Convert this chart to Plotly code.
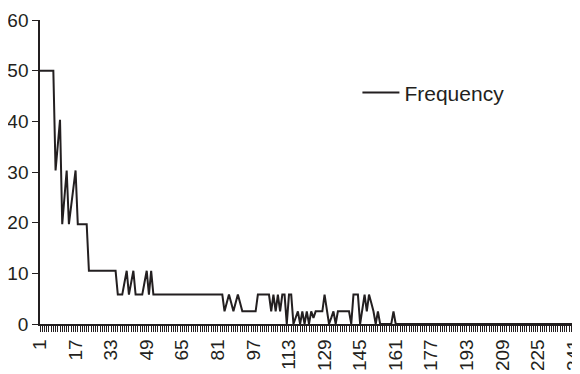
import plotly.graph_objects as go

# Frequency values, one per category 1..243
freq = [
    50, 50, 50, 50, 50, 50, 50,
    30.3, 35.3, 40.3, 19.7, 25, 30.3, 19.7, 23.2, 26.8, 30.3,
    19.7, 19.7, 19.7, 19.7, 19.7,
    10.5, 10.5, 10.5, 10.5, 10.5, 10.5, 10.5, 10.5, 10.5, 10.5, 10.5, 10.5, 10.5,
    5.8, 5.8, 5.8, 8.2, 10.5, 5.8, 8.2, 10.5, 5.8, 5.8, 5.8, 5.8, 8.2, 10.5, 5.8, 10.5,
    5.8, 5.8, 5.8, 5.8, 5.8, 5.8, 5.8, 5.8, 5.8, 5.8, 5.8, 5.8, 5.8, 5.8, 5.8, 5.8,
    5.8, 5.8, 5.8, 5.8, 5.8, 5.8, 5.8, 5.8, 5.8, 5.8, 5.8, 5.8, 5.8, 5.8, 5.8, 5.8,
    2.5, 4.2, 5.8, 4.2, 2.5, 4.2, 5.8, 4.2,
    2.5, 2.5, 2.5, 2.5, 2.5, 2.5, 2.5,
    5.8, 5.8, 5.8, 5.8, 5.8, 5.8,
    2.5, 5.8, 2.5, 5.8, 2.5, 5.8, 5.8, 0, 5.8, 5.8, 0,
    1.2, 2.5, 0, 2.5, 0, 2.5, 0, 2.5, 1.2,
    2.5, 2.5, 2.5, 2.5,
    5.8, 2.5, 0, 1.2, 2.5, 0,
    2.5, 2.5, 2.5, 2.5, 2.5, 2.5,
    0, 5.8, 5.8, 5.8, 0, 2.9, 5.8, 2.5, 5.8, 4.2, 2.5, 0, 2.5,
    0, 0, 0, 0, 0, 0,
    2.5,
    0, 0, 0, 0, 0, 0, 0, 0, 0, 0, 0, 0, 0, 0, 0, 0, 0, 0, 0, 0,
    0, 0, 0, 0, 0, 0, 0, 0, 0, 0, 0, 0, 0, 0, 0, 0, 0, 0, 0, 0,
    0, 0, 0, 0, 0, 0, 0, 0, 0, 0, 0, 0, 0, 0, 0, 0, 0, 0, 0, 0,
    0, 0, 0, 0, 0, 0, 0, 0, 0, 0, 0, 0, 0, 0, 0, 0, 0, 0, 0, 0,
    0, 0, 0,
]
categories = list(range(1, len(freq) + 1))
x_tick_labels = [1, 17, 33, 49, 65, 81, 97, 113, 129, 145, 161, 177, 193, 209, 225, 241]
y_tick_labels = [0, 10, 20, 30, 40, 50, 60]
series_name = "Frequency"

FONT = "Liberation Sans, Arial, Helvetica, sans-serif"
INK = "#231f20"

fig = go.Figure()
fig.add_trace(go.Scatter(
    x=categories, y=freq, mode="lines", name=series_name,
    line=dict(color=INK, width=2),
    showlegend=True,
))

# The page body has an 8px default margin; the figure is sized to fit the
# remaining 572x366 area so the plot lands where the reference has it.
fig.update_layout(
    width=572, height=366,
    margin=dict(l=32, r=2, t=12, b=50, autoexpand=False),
    paper_bgcolor="white", plot_bgcolor="white",
    font=dict(family=FONT, size=19, color=INK),
    showlegend=True,
    legend=dict(
        x=0.59, y=0.76, xanchor="left", yanchor="middle",
        itemwidth=37,
        bgcolor="rgba(0,0,0,0)", borderwidth=0,
        font=dict(family=FONT, size=21, color=INK),
    ),
)
fig.update_xaxes(
    range=[1, len(freq)],
    automargin=False,
    tickmode="array", tickvals=x_tick_labels, ticktext=[str(v) for v in x_tick_labels],
    tickangle=-90, ticklabeloverflow="allow",
    ticks="outside", ticklen=6, tickwidth=1, tickcolor=INK,
    minor=dict(tickmode="linear", tick0=1, dtick=1, ticks="outside", ticklen=6, tickwidth=1, tickcolor=INK),
    showline=True, linecolor=INK, linewidth=1.5,
    showgrid=False, zeroline=False,
    tickfont=dict(family=FONT, size=19, color=INK),
)
fig.update_yaxes(
    range=[0, 60],
    automargin=False,
    tickmode="array", tickvals=y_tick_labels, ticktext=[str(v) for v in y_tick_labels],
    ticks="outside", ticklen=6, tickwidth=1, tickcolor=INK,
    showline=True, linecolor=INK, linewidth=1.5,
    showgrid=False, zeroline=False,
    tickfont=dict(family=FONT, size=19, color=INK),
)

fig.write_html("out.html")
